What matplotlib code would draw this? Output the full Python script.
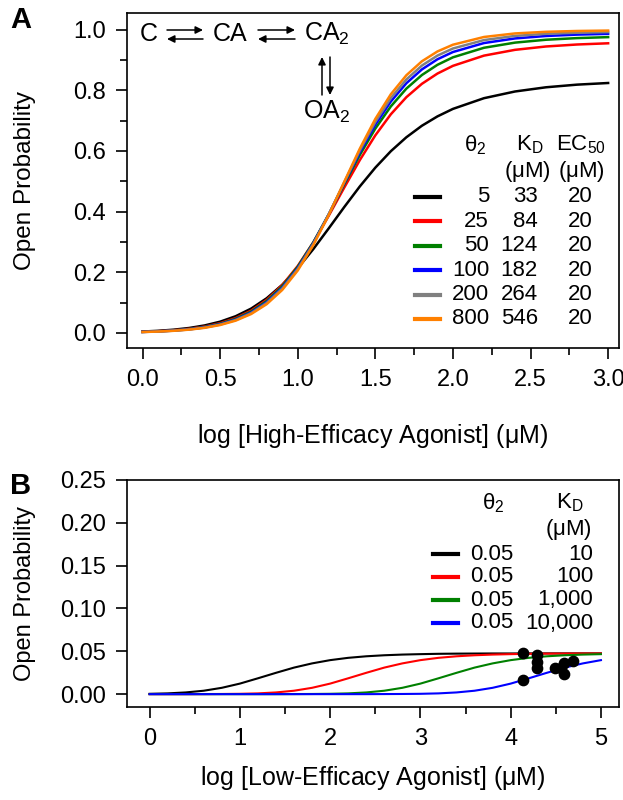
import matplotlib
matplotlib.use("Agg")
import matplotlib.pyplot as plt
from matplotlib.lines import Line2D
from matplotlib.patches import FancyArrowPatch
from matplotlib.ticker import MultipleLocator

plt.rcParams['font.family'] = ['Liberation Sans', 'DejaVu Sans']
plt.rcParams['mathtext.default'] = 'regular'
plt.rcParams['font.size'] = 16

W, H = 623, 800

# panel A: high-efficacy agonist, Po
log_hi = [0.0, 0.1, 0.2, 0.3, 0.4, 0.5, 0.6, 0.7, 0.8, 0.9, 1.0, 1.1, 1.2, 1.3,
          1.4, 1.5, 1.6, 1.7, 1.8, 1.9, 2.0, 2.2, 2.4, 2.6, 2.8, 3.0]
po_t5 = [0.0043, 0.0067, 0.0104, 0.0160, 0.0244, 0.0368, 0.0548, 0.0800, 0.1141,
         0.1584, 0.2129, 0.2760, 0.3448, 0.4151, 0.4829, 0.5449, 0.5992, 0.6451,
         0.6831, 0.7139, 0.7387, 0.7740, 0.7961, 0.8100, 0.8187, 0.8241]
po_t25 = [0.0035, 0.0054, 0.0085, 0.0133, 0.0206, 0.0319, 0.0487, 0.0734, 0.1088,
          0.1572, 0.2205, 0.2981, 0.3865, 0.4794, 0.5698, 0.6515, 0.7210, 0.7773,
          0.8214, 0.8552, 0.8807, 0.9144, 0.9335, 0.9446, 0.9511, 0.9551]
po_t50 = [0.0032, 0.0050, 0.0079, 0.0124, 0.0193, 0.0300, 0.0462, 0.0702, 0.1049,
          0.1534, 0.2178, 0.2981, 0.3911, 0.4899, 0.5866, 0.6737, 0.7470, 0.8056,
          0.8504, 0.8840, 0.9088, 0.9403, 0.9573, 0.9668, 0.9722, 0.9754]
po_t100 = [0.0030, 0.0047, 0.0074, 0.0116, 0.0182, 0.0283, 0.0438, 0.0670, 0.1009,
           0.1488, 0.2134, 0.2951, 0.3909, 0.4940, 0.5953, 0.6866, 0.7631, 0.8234,
           0.8689, 0.9023, 0.9263, 0.9559, 0.9711, 0.9792, 0.9837, 0.9862]
po_t200 = [0.0028, 0.0045, 0.0071, 0.0111, 0.0175, 0.0273, 0.0423, 0.0649, 0.0983,
           0.1458, 0.2104, 0.2930, 0.3908, 0.4968, 0.6016, 0.6959, 0.7745, 0.8358,
           0.8816, 0.9145, 0.9379, 0.9657, 0.9794, 0.9864, 0.9900, 0.9921]
po_t800 = [0.0027, 0.0042, 0.0067, 0.0105, 0.0165, 0.0258, 0.0402, 0.0621, 0.0946,
           0.1413, 0.2056, 0.2890, 0.3890, 0.4985, 0.6075, 0.7057, 0.7870, 0.8497,
           0.8957, 0.9281, 0.9504, 0.9759, 0.9876, 0.9930, 0.9957, 0.9970]

theta_a = ['5', '25', '50', '100', '200', '800']
kd_a = ['33', '84', '124', '182', '264', '546']
ec50_a = ['20', '20', '20', '20', '20', '20']
colors_a = ['black', '#ff0000', '#008000', '#0000ff', '#808080', '#ff8000']
curves_a = [po_t5, po_t25, po_t50, po_t100, po_t200, po_t800]

# panel B: low-efficacy agonist
log_lo = [0.0, 0.2, 0.4, 0.6, 0.8, 1.0, 1.2, 1.4, 1.6, 1.8, 2.0, 2.2, 2.4,
          2.6, 2.8, 3.0, 3.2, 3.4, 3.6, 3.8, 4.0, 4.2, 4.4, 4.6, 4.8, 5.0]
po_k10 = [0.0004, 0.0009, 0.0020, 0.0040, 0.0074, 0.0123, 0.0185, 0.0249, 0.0310,
          0.0359, 0.0397, 0.0424, 0.0442, 0.0454, 0.0462, 0.0467, 0.0471, 0.0473,
          0.0474, 0.0475, 0.0475, 0.0476, 0.0476, 0.0476, 0.0476, 0.0476]
po_k100 = [0.0, 0.0, 0.0, 0.0001, 0.0002, 0.0004, 0.0009, 0.0020, 0.0040, 0.0074,
           0.0123, 0.0185, 0.0249, 0.0310, 0.0359, 0.0397, 0.0424, 0.0442, 0.0454,
           0.0462, 0.0467, 0.0471, 0.0473, 0.0474, 0.0475, 0.0475]
po_k1000 = [0.0, 0.0, 0.0, 0.0, 0.0, 0.0, 0.0, 0.0, 0.0001, 0.0002, 0.0004, 0.0009,
            0.0020, 0.0040, 0.0074, 0.0123, 0.0185, 0.0249, 0.0310, 0.0359, 0.0397,
            0.0424, 0.0442, 0.0454, 0.0462, 0.0467]
po_k10000 = [0.0, 0.0, 0.0, 0.0, 0.0, 0.0, 0.0, 0.0, 0.0, 0.0, 0.0, 0.0, 0.0,
             0.0001, 0.0002, 0.0004, 0.0009, 0.0020, 0.0040, 0.0074, 0.0123,
             0.0185, 0.0249, 0.0310, 0.0359, 0.0397]

theta_b = ['0.05', '0.05', '0.05', '0.05']
kd_b = ['10', '100', '1,000', '10,000']
colors_b = ['black', '#ff0000', '#008000', '#0000ff']
curves_b = [po_k10, po_k100, po_k1000, po_k10000]

# measured points
pts_x = [4.14, 4.14, 4.29, 4.29, 4.29, 4.49, 4.56, 4.59, 4.59, 4.69]
pts_y = [0.048, 0.016, 0.046, 0.038, 0.030, 0.031, 0.030, 0.036, 0.024, 0.039]


def fx(x):
    return x / W


def fy(y):
    return 1 - y / H


def ftext(x, y, s, **kw):
    fig.text(fx(x), fy(y), s, va='center', **kw)


def fline(x0, x1, y, c):
    fig.add_artist(Line2D([fx(x0), fx(x1)], [fy(y), fy(y)], color=c, lw=3,
                          transform=fig.transFigure))


def farrow(x0, y0, x1, y1):
    fig.add_artist(FancyArrowPatch((fx(x0), fy(y0)), (fx(x1), fy(y1)),
                                   arrowstyle='-|>', mutation_scale=11, lw=1.1,
                                   color='black', shrinkA=0, shrinkB=0,
                                   transform=fig.transFigure))


fig = plt.figure(figsize=(6.23, 8), dpi=100)
axA = fig.add_axes([fx(127), fy(348), (619 - 127) / W, (348 - 13) / H])
axB = fig.add_axes([fx(127), fy(707), (619 - 127) / W, (707 - 480) / H])

for po, c in zip(curves_a, colors_a):
    axA.plot(log_hi, po, color=c, lw=1.8)
axA.set_xlim(-0.1, 3.07)
axA.set_ylim(-0.05, 1.055)
axA.xaxis.set_major_locator(MultipleLocator(0.5))
axA.xaxis.set_minor_locator(MultipleLocator(0.25))
axA.yaxis.set_major_locator(MultipleLocator(0.2))
axA.yaxis.set_minor_locator(MultipleLocator(0.1))
axA.xaxis.set_major_formatter(plt.FormatStrFormatter('%.1f'))
axA.yaxis.set_major_formatter(plt.FormatStrFormatter('%.1f'))
axA.set_xlabel(r'log [High-Efficacy Agonist] ($\mu$M)', fontsize=18)
axA.set_ylabel('Open Probability', fontsize=17.5)

for po, c in zip(curves_b, colors_b):
    axB.plot(log_lo, po, color=c, lw=1.5)
axB.scatter(pts_x, pts_y, s=55, color='black', zorder=5)
axB.set_xlim(-0.25, 5.2)
axB.set_ylim(-0.015, 0.25)
axB.xaxis.set_major_locator(MultipleLocator(1))
axB.xaxis.set_minor_locator(MultipleLocator(0.5))
axB.yaxis.set_major_locator(MultipleLocator(0.05))
axB.yaxis.set_major_formatter(plt.FormatStrFormatter('%.2f'))
axB.set_xlabel(r'log [Low-Efficacy Agonist] ($\mu$M)', fontsize=18)
axB.set_ylabel('Open Probability', fontsize=17)

axA.xaxis.set_label_coords(0.5, -0.222)
axB.xaxis.set_label_coords(0.5, -0.25)
axA.yaxis.set_label_coords(-0.185, 0.5)
axB.yaxis.set_label_coords(-0.185, 0.5)

for ax in (axA, axB):
    ax.tick_params(which='major', direction='out', length=8, width=1.2, pad=7,
                   labelsize=17)
    ax.tick_params(which='minor', direction='out', length=5, width=1.2)
    for sp in ax.spines.values():
        sp.set_linewidth(1.2)

# panel letters
ftext(10, 20, 'A', fontsize=21, fontweight='bold')
ftext(10, 486, 'B', fontsize=21, fontweight='bold')

# reaction scheme
ftext(149, 34, 'C', ha='center', fontsize=18)
ftext(230, 34, 'CA', ha='center', fontsize=18)
ftext(327, 34, 'CA$_2$', ha='center', fontsize=18)
ftext(327, 112, 'OA$_2$', ha='center', fontsize=18)
farrow(167, 30, 203, 30)
farrow(203, 39, 167, 39)
farrow(258, 30, 295, 30)
farrow(295, 39, 258, 39)
farrow(322, 95, 322, 57)
farrow(330, 57, 330, 95)

# panel A legend table
ftext(475, 145, r'$\theta_2$', ha='center')
ftext(530, 145, 'K$_D$', ha='center')
ftext(581, 145, 'EC$_{50}$', ha='center')
ftext(527, 172, r'($\mu$M)', ha='center')
ftext(581, 172, r'($\mu$M)', ha='center')
for i in range(len(theta_a)):
    y = 197 + i * 24.4
    fline(415, 440, y, colors_a[i])
    ftext(489, y, theta_a[i], ha='right')
    ftext(538, y, kd_a[i], ha='right')
    ftext(593, y, ec50_a[i], ha='right')

# panel B legend table
ftext(493, 503, r'$\theta_2$', ha='center')
ftext(570, 503, 'K$_D$', ha='center')
ftext(568, 530, r'($\mu$M)', ha='center')
for i in range(len(theta_b)):
    y = 554 + i * 23
    fline(433, 458, y, colors_b[i])
    ftext(492, y, theta_b[i], ha='center')
    ftext(593, y, kd_b[i], ha='right')

fig.savefig('out.png', dpi=100)
